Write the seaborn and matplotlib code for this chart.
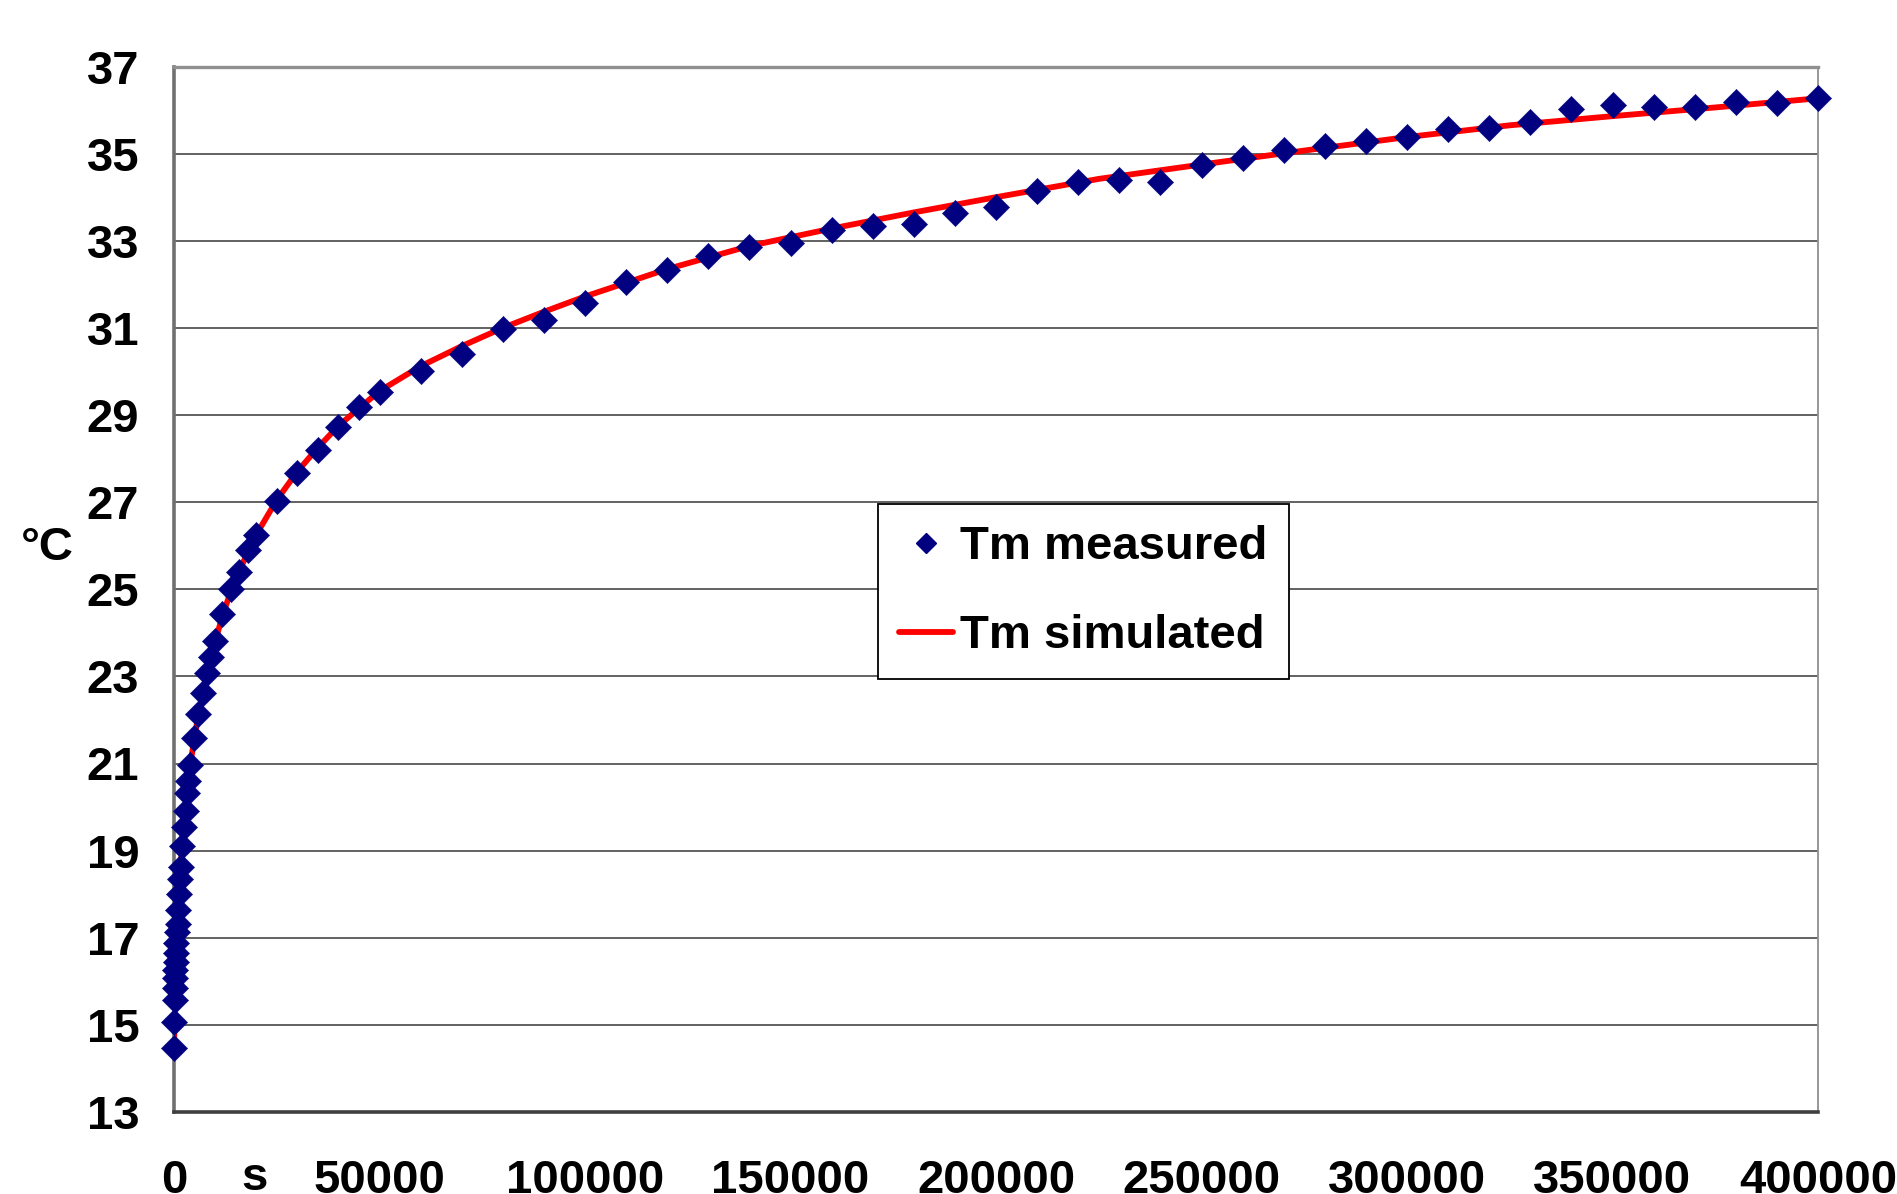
import matplotlib
matplotlib.use("Agg")
import matplotlib.pyplot as plt
import seaborn as sns
import pandas as pd
from matplotlib.lines import Line2D

# measured data (time in s, temperature in °C)
meas_t = [0, 100, 200, 250, 300, 350, 400, 450, 600, 800, 900, 1000, 1300, 1500,
          1600, 1900, 2400, 2800, 3100, 3500, 3900, 4900, 5900, 7000, 8000, 9000,
          10000, 11800, 13900, 15900, 17900, 20000, 25000, 30000, 35000, 40000,
          45000, 50000, 60000, 70000, 80000, 90000, 100000, 110000, 120000, 130000,
          140000, 150000, 160000, 170000, 180000, 190000, 200000, 210000, 220000,
          230000, 240000, 250000, 260000, 270000, 280000, 290000, 300000, 310000,
          320000, 330000, 340000, 350000, 360000, 370000, 380000, 390000, 400000]
meas_T = [14.48, 15.07, 15.57, 15.84, 16.07, 16.26, 16.45, 16.64, 16.87, 17.14,
          17.32, 17.64, 18.00, 18.34, 18.63, 19.11, 19.55, 19.92, 20.32, 20.60,
          20.97, 21.58, 22.14, 22.61, 23.07, 23.45, 23.81, 24.43, 25.00, 25.40,
          25.90, 26.24, 27.03, 27.66, 28.20, 28.73, 29.19, 29.53, 30.00, 30.39,
          30.97, 31.19, 31.58, 32.06, 32.33, 32.64, 32.86, 32.94, 33.25, 33.33,
          33.39, 33.64, 33.78, 34.14, 34.36, 34.39, 34.36, 34.75, 34.89, 35.08,
          35.17, 35.28, 35.39, 35.56, 35.58, 35.72, 36.03, 36.11, 36.06, 36.06,
          36.19, 36.17, 36.28]

# simulated curve
sim_t = [0, 200, 400, 700, 1000, 1500, 2000, 2500, 3000, 4000, 5000, 6000, 7000,
         8000, 9000, 10000, 12000, 14000, 16000, 18000, 20000, 25000, 30000, 35000,
         40000, 45000, 50000, 60000, 70000, 80000, 90000, 100000, 120000, 140000,
         160000, 180000, 200000, 225000, 250000, 275000, 300000, 325000, 350000,
         375000, 400000]
sim_T = [14.45, 15.5, 16.4, 17.0, 17.6, 18.4, 19.2, 19.6, 20.1, 21.0, 21.6, 22.15,
         22.6, 23.05, 23.45, 23.8, 24.45, 25.0, 25.45, 25.85, 26.25, 27.05, 27.7,
         28.25, 28.75, 29.15, 29.55, 30.12, 30.58, 31.0, 31.37, 31.72, 32.35, 32.88,
         33.28, 33.65, 34.0, 34.42, 34.75, 35.07, 35.38, 35.65, 35.86, 36.06, 36.27]

x_ticks = [0, 50000, 100000, 150000, 200000, 250000, 300000, 350000, 400000]
y_ticks = [13, 15, 17, 19, 21, 23, 25, 27, 29, 31, 33, 35, 37]

sns.set_style("white")
plt.rcParams['font.family'] = ['Liberation Sans', 'DejaVu Sans']
plt.rcParams['font.weight'] = 'bold'
plt.rcParams['text.color'] = 'black'
plt.rcParams['xtick.color'] = 'black'
plt.rcParams['ytick.color'] = 'black'
plt.rcParams['axes.labelcolor'] = 'black'

FS = 34

fig = plt.figure(figsize=(18.97, 11.94), dpi=100)
ax = fig.add_axes([174 / 1897, 82 / 1194, 1644 / 1897, 1045.5 / 1194])

df_meas = pd.DataFrame({"t": meas_t, "T": meas_T})
df_sim = pd.DataFrame({"t": sim_t, "T": sim_T})

sns.lineplot(data=df_sim, x="t", y="T", ax=ax, color="#ff0000", linewidth=4.2,
             zorder=3, legend=False)
sns.scatterplot(data=df_meas, x="t", y="T", ax=ax, marker="D", s=180,
                color="#000080", edgecolor="#000080", linewidth=0.3, zorder=4,
                legend=False, clip_on=False)

ax.set_xlim(0, 400000)
ax.set_ylim(13, 37)
ax.set_xticks(x_ticks)
ax.set_xticklabels([str(v) for v in x_ticks])
ax.set_yticks(y_ticks)
ax.set_yticklabels([str(v) for v in y_ticks])

ax.grid(axis="y", color="#555555", linewidth=1.3)
ax.grid(axis="x", visible=False)
ax.set_axisbelow(True)

ax.tick_params(axis="y", which="major", direction="out", length=10, width=1.3,
               color="#555555", labelcolor="black", pad=15, labelsize=FS)
ax.tick_params(axis="x", which="major", direction="out", length=10, width=1.3,
               color="#555555", labelcolor="black", pad=24, labelsize=FS)
for lab in ax.get_xticklabels() + ax.get_yticklabels():
    lab.set_fontweight("bold")

ax.spines["left"].set_color("#707070")
ax.spines["left"].set_linewidth(2.6)
ax.spines["bottom"].set_color("#404040")
ax.spines["bottom"].set_linewidth(2.6)
ax.spines["right"].set_color("#909090")
ax.spines["right"].set_linewidth(1.3)
ax.spines["top"].set_color("#909090")
ax.spines["top"].set_linewidth(2.4)
for s in ax.spines.values():
    s.set_visible(True)

ax.set_xlabel("")
ax.set_ylabel("°C", rotation=0, fontsize=FS, fontweight="bold", va="center",
              ha="center", color="black")
ax.yaxis.set_label_coords(-0.077, 0.539)
ax.text(0.0487, -0.0745, "s", transform=ax.transAxes, fontsize=FS,
        fontweight="bold", ha="center", va="baseline", color="black")

handles = [
    Line2D([], [], marker="D", color="#000080", linestyle="none", markersize=10.5),
    Line2D([], [], color="#ff0000", linewidth=4.2),
]
leg = ax.legend(handles, ["Tm measured", "Tm simulated"], loc="upper left",
                bbox_to_anchor=(0.428, 0.5815), frameon=True, fancybox=False,
                prop={"size": FS, "weight": "bold"}, handlelength=1.15,
                handletextpad=0.15, labelspacing=0.95, borderpad=0.45,
                borderaxespad=0)
for t in leg.get_texts():
    t.set_color("black")
leg.get_frame().set_edgecolor("#000000")
leg.get_frame().set_linewidth(1.3)
leg.get_frame().set_facecolor("white")
leg.get_frame().set_alpha(1)

fig.savefig("out.png", dpi=100, facecolor="white")
